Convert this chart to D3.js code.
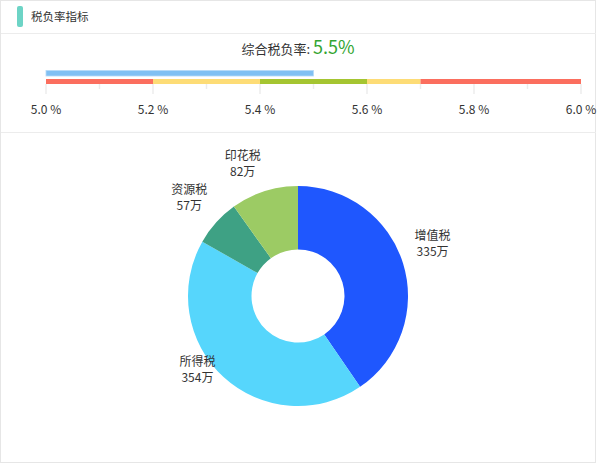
<!DOCTYPE html>
<html>
<head>
<meta charset="utf-8">
<script src="https://cdn.jsdelivr.net/npm/d3@7"></script>
<style>
  html, body { margin: 0; padding: 0; background: #fff; }
  svg { display: block; font-family: "Microsoft YaHei", "Noto Sans CJK SC", sans-serif; }
</style>
</head>
<body>
<div id="chart"></div>
<script>
// Tax burden panel: gauge bar on top, donut of tax amounts below

const panelTitle = '税负率指标';
const rateLabel = '综合税负率:';
const rateValue = 5.5;

// gauge band: segment boundaries and colours
const bandStops = [5.0, 5.2, 5.4, 5.6, 5.7, 6.0];
const bandColors = ['#fb6e5e', '#fddc76', '#a5c531', '#fddc76', '#fb6e5e'];
const majorTicks = [5.0, 5.2, 5.4, 5.6, 5.8, 6.0];
const minorTicks = [5.1, 5.3, 5.5, 5.7, 5.9];

// donut
const taxNames = ['增值税', '所得税', '资源税', '印花税'];
const taxValues = [335, 354, 57, 82];
const taxColors = ['#1f57fe', '#56d6fc', '#3ea184', '#9ccb64'];

const width = 597, height = 464;
const svg = d3.select('#chart').append('svg')
  .attr('width', width)
  .attr('height', height);

// frame + header
svg.append('rect')
  .attr('x', 0.5).attr('y', 0.5)
  .attr('width', 595).attr('height', 462)
  .attr('fill', '#fff')
  .attr('stroke', '#e6e6e6');
svg.append('rect')
  .attr('x', 17).attr('y', 6)
  .attr('width', 6).attr('height', 21)
  .attr('rx', 2)
  .attr('fill', '#6dd4c6');
svg.append('text')
  .attr('x', 31).attr('y', 20.5)
  .attr('font-size', 11.5)
  .attr('fill', '#333')
  .text(panelTitle);
svg.append('line')
  .attr('x1', 1).attr('x2', 596)
  .attr('y1', 33.5).attr('y2', 33.5)
  .attr('stroke', '#ececec');
svg.append('line')
  .attr('x1', 1).attr('x2', 596)
  .attr('y1', 132.5).attr('y2', 132.5)
  .attr('stroke', '#ececec');

// gauge title
const head = svg.append('text')
  .attr('x', 298).attr('y', 54)
  .attr('text-anchor', 'middle');
head.append('tspan')
  .attr('font-size', 13)
  .attr('fill', '#333')
  .text(rateLabel);
head.append('tspan')
  .attr('font-size', 18)
  .attr('fill', '#33a532')
  .attr('dx', 3)
  .text(rateValue.toFixed(1) + '%');

// gauge
const x = d3.scaleLinear()
  .domain([bandStops[0], bandStops[bandStops.length - 1]])
  .range([46, 581]);

svg.append('rect')
  .attr('x', x(bandStops[0]))
  .attr('y', 70.5)
  .attr('width', x(rateValue) - x(bandStops[0]))
  .attr('height', 5.5)
  .attr('fill', '#80c0f3')
  .attr('stroke', '#b5daf8')
  .attr('stroke-width', 0.8);

svg.append('g').selectAll('rect')
  .data(bandColors)
  .join('rect')
  .attr('x', (d, i) => x(bandStops[i]))
  .attr('y', 79)
  .attr('width', (d, i) => x(bandStops[i + 1]) - x(bandStops[i]))
  .attr('height', 5)
  .attr('fill', d => d);

svg.append('g').selectAll('line')
  .data(majorTicks)
  .join('line')
  .attr('x1', d => x(d)).attr('x2', d => x(d))
  .attr('y1', 84).attr('y2', 94)
  .attr('stroke', '#ececec')
  .attr('stroke-width', 1.5);
svg.append('g').selectAll('line')
  .data(minorTicks)
  .join('line')
  .attr('x1', d => x(d)).attr('x2', d => x(d))
  .attr('y1', 84).attr('y2', 89)
  .attr('stroke', '#ececec')
  .attr('stroke-width', 1.5);
svg.append('g').selectAll('text')
  .data(majorTicks)
  .join('text')
  .attr('x', d => x(d))
  .attr('y', 114)
  .attr('text-anchor', 'middle')
  .attr('font-size', 12)
  .attr('fill', '#333')
  .text(d => d.toFixed(1) + ' %');

// donut
const cx = 298, cy = 296, outerR = 110, innerR = 46.5, labelR = 122;
const pie = d3.pie().sort(null).value(d => d)(taxValues);
const arc = d3.arc().innerRadius(innerR).outerRadius(outerR);
const g = svg.append('g').attr('transform', `translate(${cx},${cy})`);

g.selectAll('path')
  .data(pie)
  .join('path')
  .attr('d', arc)
  .attr('fill', (d, i) => taxColors[i]);

// labels: block sits above a point just outside the ring, aligned away from the centre
g.selectAll('text')
  .data(pie)
  .join('text')
  .attr('font-size', 12)
  .attr('fill', '#333')
  .attr('text-anchor', 'middle')
  .each(function (d, i) {
    const a = (d.startAngle + d.endAngle) / 2;
    const px = Math.sin(a) * labelR;
    const py = -Math.cos(a) * labelR;
    const t = d3.select(this);
    t.append('tspan').attr('x', 0).attr('y', py - 20).text(taxNames[i]);
    t.append('tspan').attr('x', 0).attr('y', py - 4).text(taxValues[i] + '万');
    const w = this.getBBox().width;
    const lx = px >= 0 ? px + w / 2 : px - w / 2;
    t.selectAll('tspan').attr('x', lx);
  });
</script>
</body>
</html>
